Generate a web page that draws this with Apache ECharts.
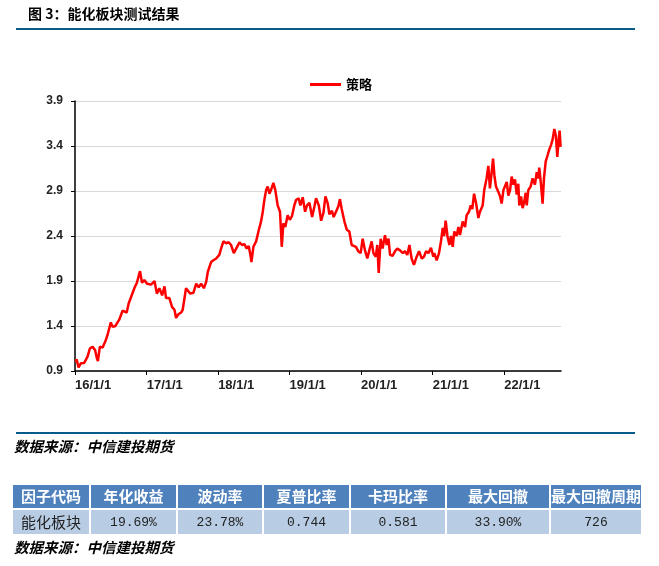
<!DOCTYPE html>
<html><head><meta charset="utf-8">
<script src="https://cdn.jsdelivr.net/npm/echarts/dist/echarts.min.js"></script>
<style>html,body{margin:0;padding:0;background:#fff}#c{width:659px;height:566px}</style>
</head><body><div id="c"></div><script>
const titleText = '图 3：能化板块测试结果';
const sourceText = '数据来源：中信建投期货';
const seriesName = '策略';
const dates = ['2016-01-04','2016-01-09','2016-01-19','2016-01-31','2016-02-17','2016-03-05','2016-03-17','2016-03-31','2016-04-13','2016-04-22','2016-04-27','2016-05-07','2016-05-21','2016-06-04','2016-06-15','2016-07-02','2016-07-11','2016-07-25','2016-08-14','2016-08-31','2016-09-21','2016-10-01','2016-10-13','2016-10-30','2016-11-12','2016-11-28','2016-12-08','2016-12-20',
'2017-01-03','2017-01-24','2017-02-10','2017-02-22','2017-03-07','2017-03-21','2017-04-02','2017-04-10','2017-04-27','2017-05-11','2017-05-23','2017-05-31','2017-06-12','2017-06-26','2017-07-04','2017-07-13','2017-07-21','2017-07-30','2017-08-11','2017-08-28','2017-09-11','2017-09-24','2017-10-06','2017-10-20','2017-11-01','2017-11-09','2017-11-26','2017-12-08','2017-12-22',
'2018-01-07','2018-01-16','2018-01-28','2018-02-11','2018-02-24','2018-03-08','2018-03-22','2018-04-03','2018-04-20','2018-05-03','2018-05-15','2018-05-27','2018-06-06','2018-06-15','2018-06-20','2018-06-30','2018-07-14','2018-07-28','2018-08-08','2018-08-17','2018-08-25','2018-09-03','2018-09-11','2018-09-20','2018-09-28','2018-10-10','2018-10-20','2018-11-01','2018-11-13','2018-11-22','2018-11-30','2018-12-10','2018-12-22',
'2019-01-02','2019-01-13','2019-01-25','2019-02-03','2019-02-16','2019-02-25','2019-03-09','2019-03-21','2019-03-31','2019-04-12','2019-04-26','2019-05-08','2019-05-16','2019-05-30','2019-06-11','2019-06-23','2019-07-03','2019-07-15','2019-07-23','2019-08-05','2019-08-14','2019-08-26','2019-09-07','2019-09-15','2019-09-24','2019-10-08','2019-10-20','2019-11-02','2019-11-14','2019-11-24','2019-12-06','2019-12-18','2019-12-30',
'2020-01-09','2020-01-21','2020-02-02','2020-02-12','2020-02-24','2020-03-04','2020-03-16','2020-03-24','2020-03-31','2020-04-10','2020-04-20','2020-05-02','2020-05-11','2020-05-20','2020-05-28','2020-06-10','2020-06-22','2020-07-04','2020-07-18','2020-08-01','2020-08-12','2020-08-24','2020-09-04','2020-09-15','2020-09-27','2020-10-11','2020-10-23','2020-11-06','2020-11-17','2020-11-28','2020-12-10','2020-12-23',
'2021-01-04','2021-01-09','2021-01-21','2021-02-02','2021-02-12','2021-02-21','2021-02-28','2021-03-08','2021-03-17','2021-03-27','2021-04-04','2021-04-13','2021-04-21','2021-05-03','2021-05-12','2021-05-20','2021-06-03','2021-06-15','2021-06-23','2021-07-05','2021-07-14','2021-07-22','2021-07-31','2021-08-10','2021-08-22','2021-08-30','2021-09-13','2021-09-21','2021-10-03','2021-10-12','2021-10-20','2021-10-29','2021-11-05','2021-11-12','2021-11-20','2021-12-02','2021-12-11','2021-12-19','2021-12-28',
'2022-01-05','2022-01-14','2022-01-22','2022-01-31','2022-02-08','2022-02-17','2022-02-25','2022-03-06','2022-03-14','2022-03-19','2022-03-28','2022-04-05','2022-04-12','2022-04-21','2022-04-26','2022-05-04','2022-05-16','2022-05-26','2022-06-07','2022-06-16','2022-06-24','2022-06-29','2022-07-08','2022-07-16','2022-07-23','2022-08-01','2022-08-11','2022-08-19','2022-08-28','2022-09-05','2022-09-14','2022-09-22','2022-09-29','2022-10-06','2022-10-11','2022-10-16'];
const values = [1.00,1.03,0.94,0.985,0.99,1.06,1.15,1.17,1.13,1.04,1.01,1.17,1.16,1.23,1.30,1.44,1.39,1.40,1.47,1.57,1.55,1.65,1.72,1.82,1.88,2.01,1.88,1.91,
1.87,1.86,1.90,1.76,1.82,1.74,1.84,1.71,1.71,1.61,1.58,1.49,1.53,1.55,1.58,1.58,1.82,1.80,1.76,1.77,1.87,1.83,1.87,1.82,1.89,2.00,2.11,2.13,2.15,
2.19,2.26,2.34,2.32,2.33,2.30,2.21,2.26,2.33,2.30,2.31,2.26,2.29,2.19,2.11,2.28,2.34,2.47,2.56,2.67,2.80,2.91,2.95,2.87,2.91,2.99,2.91,2.74,2.67,2.28,2.54,2.50,2.63,
2.58,2.62,2.74,2.80,2.82,2.74,2.83,2.67,2.74,2.77,2.61,2.73,2.82,2.74,2.57,2.66,2.84,2.76,2.64,2.68,2.61,2.67,2.73,2.81,2.70,2.56,2.47,2.45,2.30,2.32,2.28,2.23,2.21,
2.37,2.24,2.15,2.24,2.34,2.21,2.17,2.30,1.99,2.37,2.26,2.41,2.30,2.37,2.19,2.18,2.23,2.26,2.24,2.21,2.23,2.19,2.30,2.15,2.08,2.17,2.23,2.15,2.17,2.23,2.21,2.27,
2.17,2.21,2.13,2.21,2.34,2.49,2.40,2.57,2.40,2.30,2.40,2.28,2.45,2.40,2.50,2.41,2.56,2.50,2.63,2.67,2.74,2.70,2.87,2.77,2.60,2.67,2.74,2.91,3.04,3.18,2.93,3.11,3.26,3.07,2.95,2.89,2.84,2.76,2.91,
2.92,3.00,2.85,2.91,3.06,2.97,3.03,2.86,2.98,2.74,2.84,2.71,2.77,2.88,2.74,2.91,2.95,3.04,2.97,3.11,3.04,3.16,2.97,2.76,3.04,3.23,3.30,3.36,3.41,3.47,3.59,3.51,3.28,3.46,3.57,3.39];
const xMin = '2016-01-01';
const xMax = '2022-10-18';
const yMin = 0.9, yMax = 3.9, yStep = 0.5;
const tableHeaders = ['因子代码','年化收益','波动率','夏普比率','卡玛比率','最大回撤','最大回撤周期'];
const tableRow = ['能化板块','19.69%','23.78%','0.744','0.581','33.90%','726'];

const colEdges = [13, 91, 178, 264, 351, 447, 551, 643];
const cjk = '"Noto Sans CJK SC", "Liberation Sans", sans-serif';
const graphics = [];
graphics.push({type:'text', left: 28, top: 7, style:{text:titleText, font:'bold 14px ' + cjk, fill:'#000'}});
graphics.push({type:'rect', shape:{x:16, y:28, width:619, height:2}, style:{fill:'#0b5a8c'}});
graphics.push({type:'rect', shape:{x:16, y:432, width:619, height:2}, style:{fill:'#0b5a8c'}});
graphics.push({type:'text', left: 14, top: 439, style:{text:sourceText, font:'italic bold 14.5px ' + cjk, fill:'#000'}});
graphics.push({type:'text', left: 14, top: 540, style:{text:sourceText, font:'italic bold 14.5px ' + cjk, fill:'#000'}});
for (let i = 0; i < tableHeaders.length; i++) {
  const x0 = colEdges[i], x1 = colEdges[i+1];
  graphics.push({type:'rect', shape:{x:x0, y:485, width:x1-x0-2, height:23}, style:{fill:'#4f81bd'}});
  graphics.push({type:'rect', shape:{x:x0, y:510, width:x1-x0-2, height:24}, style:{fill:'#b8cce4'}});
  graphics.push({type:'text', style:{text:tableHeaders[i], x:(x0+x1-2)/2, y:496.5, align:'center', verticalAlign:'middle', font:'bold 15px ' + cjk, fill:'#fff'}});
  const isNum = i > 0;
  graphics.push({type:'text', style:{text:tableRow[i], x:(x0+x1-2)/2, y:522.5, align:'center', verticalAlign:'middle', font: isNum ? '13px "Liberation Mono", monospace' : '15px ' + cjk, fill:'#222'}});
}

const chart = echarts.init(document.getElementById('c'), null, {renderer:'canvas'});
chart.setOption({
  animation: false,
  backgroundColor: '#fff',
  legend: {
    data: [seriesName], left: 305, top: 73, icon: 'rect', itemWidth: 31, itemHeight: 3,
    textStyle: {fontSize: 13, fontWeight: 'bold', color: '#000', fontFamily: cjk}
  },
  grid: {left: 75, right: 98, top: 101, bottom: 195, containLabel: false},
  xAxis: {
    type: 'time', min: xMin, max: xMax,
    minInterval: 365*86400000, maxInterval: 366*86400000,
    axisLine: {lineStyle: {color: '#000', width: 1.5}},
    axisTick: {show: true, length: 4, lineStyle: {color: '#000', width: 1}},
    axisLabel: {
      align: 'left', margin: 8, fontSize: 13, fontWeight: 'bold', color: '#222', fontFamily: '"Liberation Sans", Arial, sans-serif',
      hideOverlap: false, showMaxLabel: false,
      formatter: function (v) { const d = new Date(v); return (d.getFullYear() % 100) + '/' + (d.getMonth()+1) + '/' + d.getDate(); }
    },
    splitLine: {show: false}
  },
  yAxis: {
    type: 'value', min: yMin, max: yMax, interval: yStep,
    axisLine: {show: true, lineStyle: {color: '#000', width: 1.5}},
    axisTick: {show: true, length: 4, lineStyle: {color: '#000', width: 1}},
    axisLabel: {margin: 12, fontSize: 12, fontWeight: 'bold', color: '#222', fontFamily: '"Liberation Sans", Arial, sans-serif',
      formatter: function (v) { return v.toFixed(1); }},
    splitLine: {lineStyle: {color: '#d9d9d9', width: 1}}
  },
  series: [{
    name: seriesName, type: 'line', showSymbol: false, symbol: 'none',
    data: dates.map((d, i) => [d, values[i]]),
    lineStyle: {color: '#ff0000', width: 2.5}, itemStyle: {color: '#ff0000'}
  }],
  graphic: graphics
});
</script></body></html>
